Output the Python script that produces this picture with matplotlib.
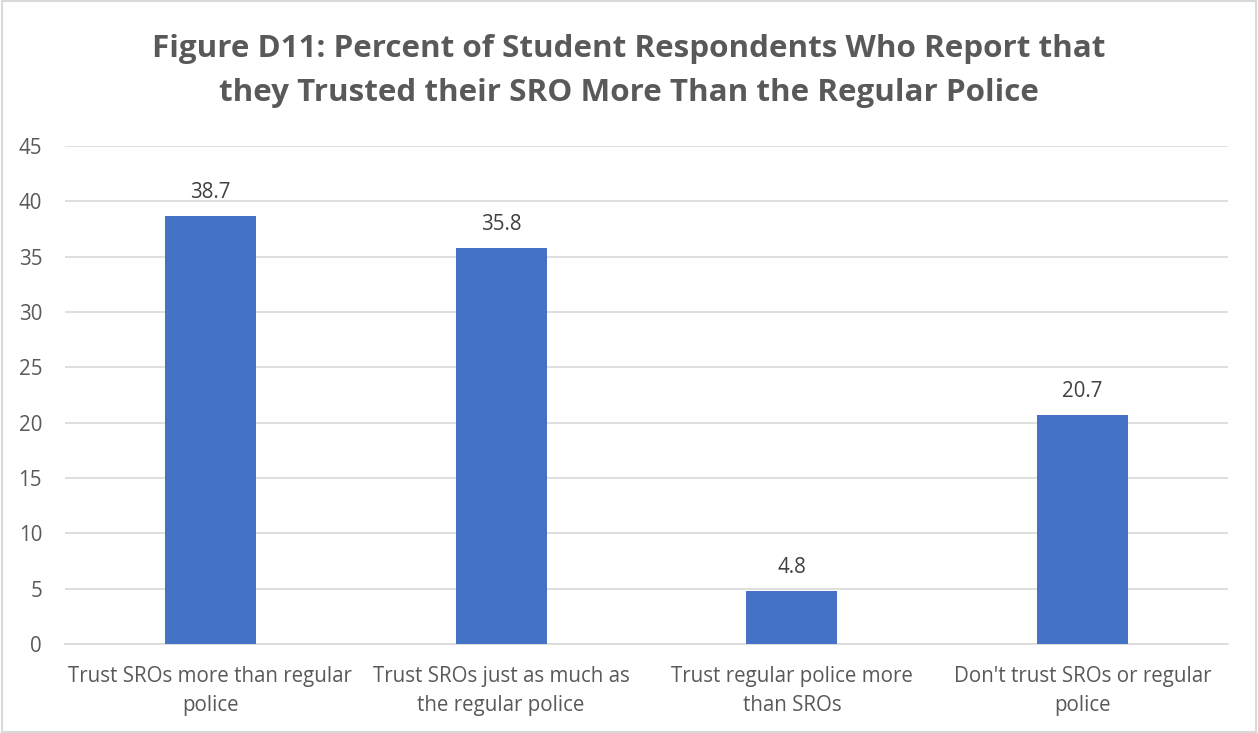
import matplotlib
matplotlib.use("Agg")
import matplotlib.pyplot as plt
from matplotlib.patches import Rectangle

categories = ["Trust SROs more than regular\npolice",
              "Trust SROs just as much as\nthe regular police",
              "Trust regular police more\nthan SROs",
              "Don't trust SROs or regular\npolice"]
values = [38.7, 35.8, 4.8, 20.7]
yticks = [0, 5, 10, 15, 20, 25, 30, 35, 40, 45]
title = "Figure D11: Percent of Student Respondents Who Report that\nthey Trusted their SRO More Than the Regular Police"

plt.rcParams['font.family'] = ['Open Sans', 'DejaVu Sans']
gray = '#595959'
fs = 14.8

fig = plt.figure(figsize=(12.58, 7.33), dpi=100)
ax = fig.add_axes([65/1258, 1 - 644/733, (1228-65)/1258, (644-146)/733])

x = list(range(len(categories)))
ax.bar(x, values, width=0.313, color='#4472C4', zorder=3)
for xi, v in zip(x, values):
    ax.annotate(f"{v}", (xi, v), xytext=(0, 9.5), textcoords='offset points',
                ha='center', va='bottom', fontsize=fs, color='#404040')

ax.set_xlim(-0.5, len(categories) - 0.5)
ax.set_ylim(0, 45)
ax.set_yticks(yticks)
ax.set_yticklabels([str(t) for t in yticks], fontsize=fs, color=gray)
ax.set_xticks(x)
ax.set_xticklabels(categories, fontsize=fs, color=gray, linespacing=1.5)
ax.tick_params(axis='both', length=0)
ax.tick_params(axis='y', pad=16.5)
ax.tick_params(axis='x', pad=16)
ax.yaxis.grid(True, color='#d9d9d9', linewidth=1.2, zorder=0)
for s in ['top', 'right', 'left']:
    ax.spines[s].set_visible(False)
ax.spines['bottom'].set_color('#d9d9d9')
ax.spines['bottom'].set_linewidth(1.2)

fig.text(0.5, 1 - 71/733, title, ha='center', va='center', fontsize=22.6,
         fontweight='bold', color=gray, linespacing=1.62)

fig.patches.append(Rectangle((0.0015, 0.0015), 0.997, 0.997, transform=fig.transFigure,
                             fill=False, edgecolor='#d9d9d9', linewidth=1.5))

fig.savefig("out.png", dpi=100)
